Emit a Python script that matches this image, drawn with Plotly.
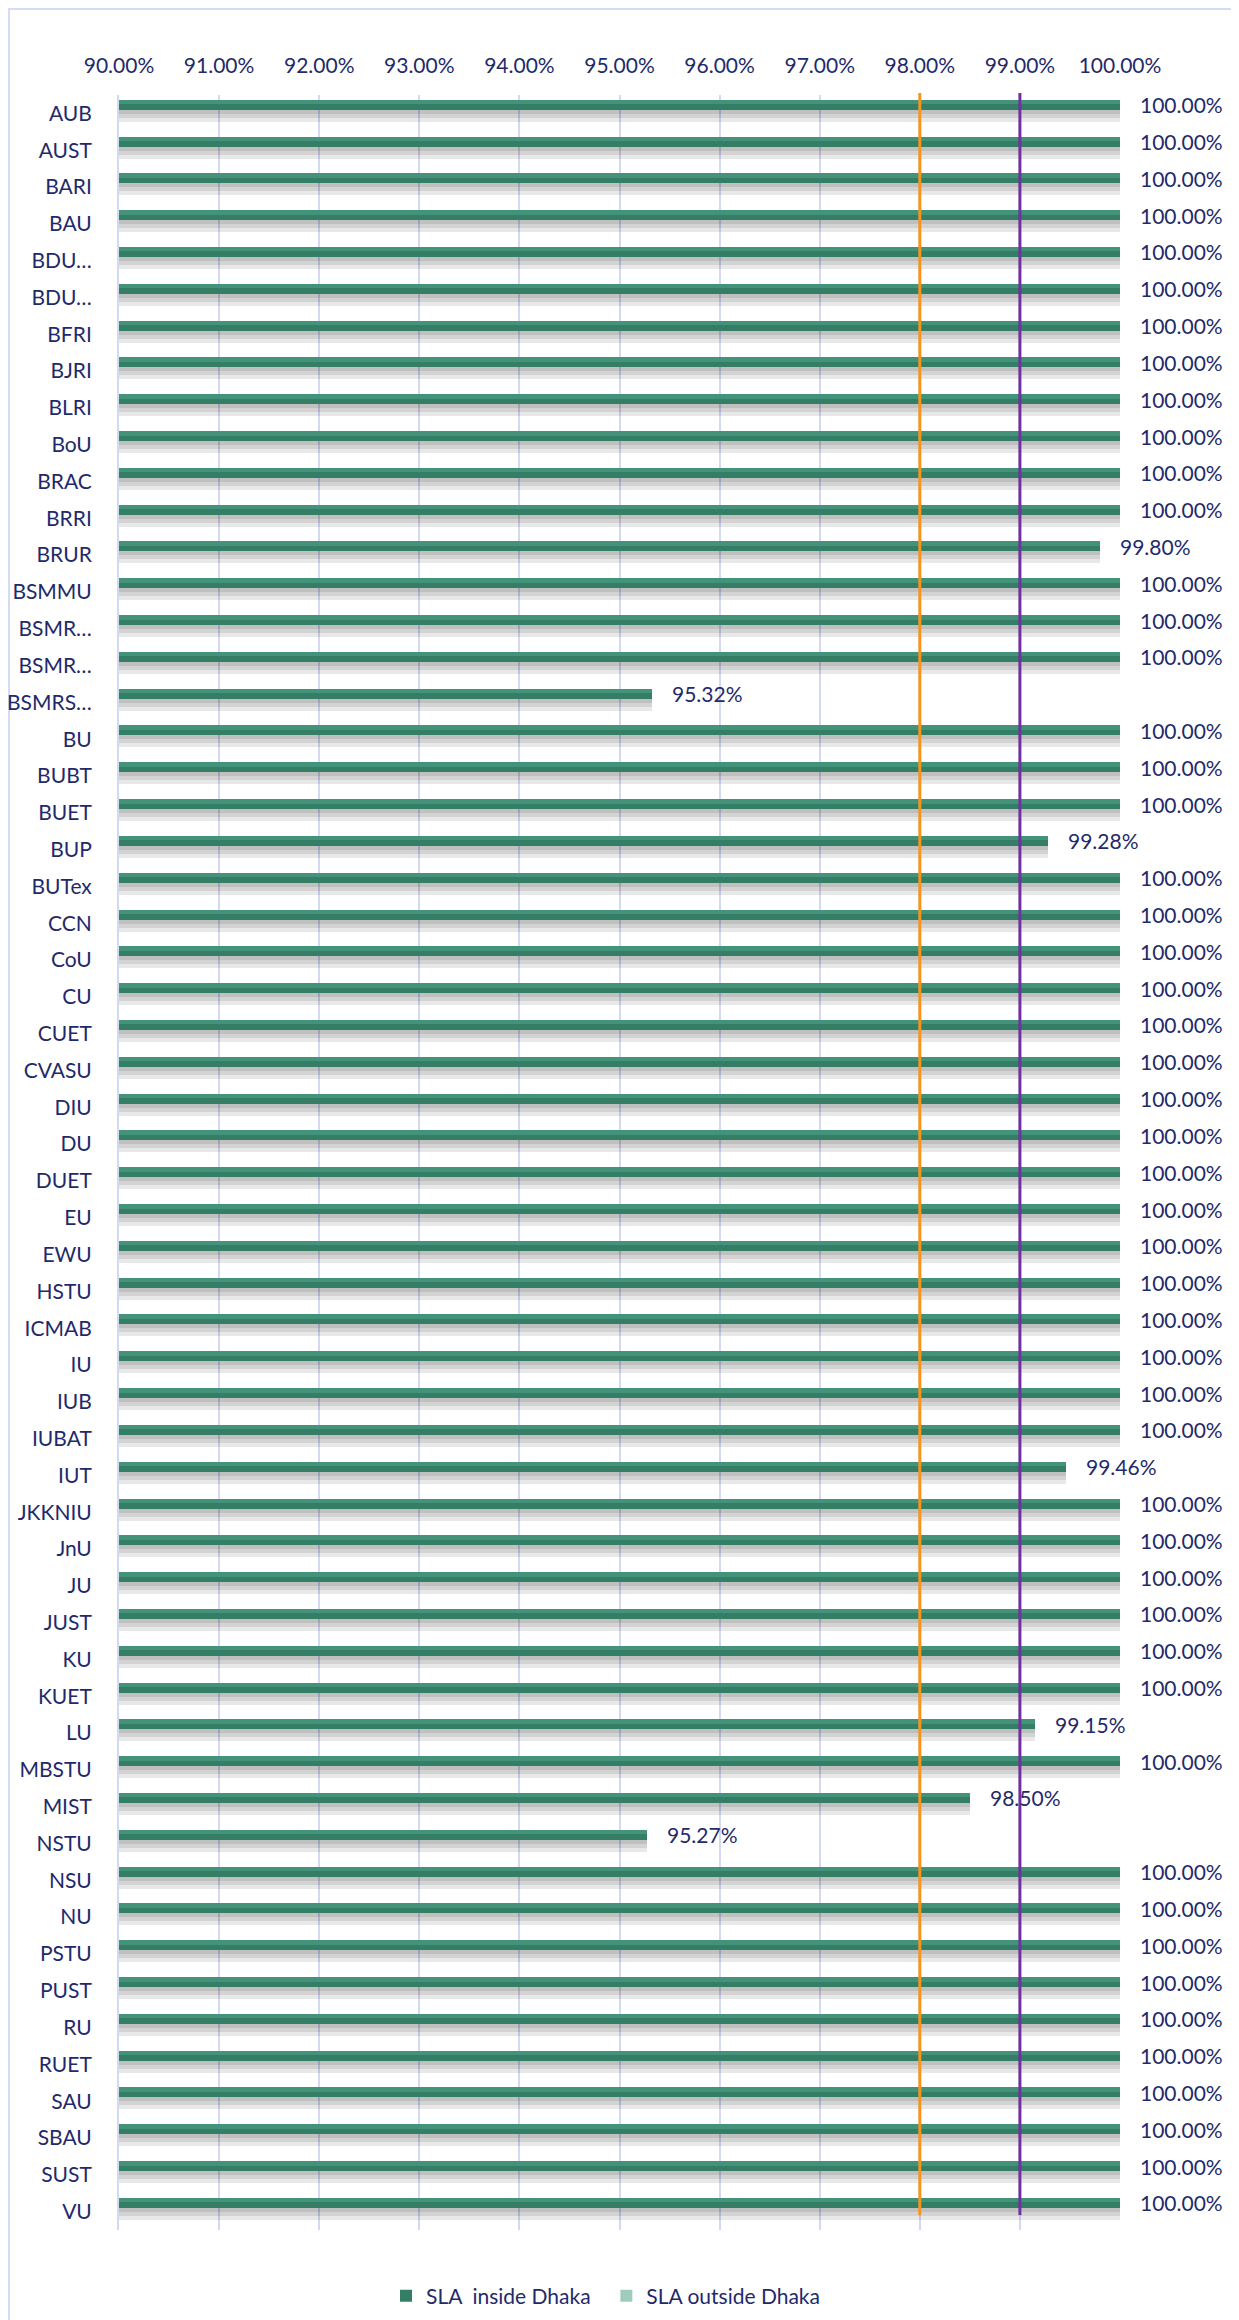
import plotly.graph_objects as go

# ---------------- data ----------------
categories = ["AUB", "AUST", "BARI", "BAU", "BDU…", "BDU…", "BFRI", "BJRI", "BLRI", "BoU",
              "BRAC", "BRRI", "BRUR", "BSMMU", "BSMR…", "BSMR…", "BSMRS…", "BU", "BUBT", "BUET",
              "BUP", "BUTex", "CCN", "CoU", "CU", "CUET", "CVASU", "DIU", "DU", "DUET",
              "EU", "EWU", "HSTU", "ICMAB", "IU", "IUB", "IUBAT", "IUT", "JKKNIU", "JnU",
              "JU", "JUST", "KU", "KUET", "LU", "MBSTU", "MIST", "NSTU", "NSU", "NU",
              "PSTU", "PUST", "RU", "RUET", "SAU", "SBAU", "SUST", "VU"]

sla_inside = [1.0, 1.0, 1.0, 1.0, 1.0, 1.0, 1.0, 1.0, 1.0, 1.0,
              1.0, 1.0, 0.998, 1.0, 1.0, 1.0, 0.9532, 1.0, 1.0, 1.0,
              0.9928, 1.0, 1.0, 1.0, 1.0, 1.0, 1.0, 1.0, 1.0, 1.0,
              1.0, 1.0, 1.0, 1.0, 1.0, 1.0, 1.0, 0.9946, 1.0, 1.0,
              1.0, 1.0, 1.0, 1.0, 0.9915, 1.0, 0.985, 0.9527, 1.0, 1.0,
              1.0, 1.0, 1.0, 1.0, 1.0, 1.0, 1.0, 1.0]

sla_outside = [None] * len(categories)

x_ticks = [0.90, 0.91, 0.92, 0.93, 0.94, 0.95, 0.96, 0.97, 0.98, 0.99, 1.00]
thresholds = [0.98, 0.99]
threshold_colors = ["#F7941D", "#7030A0"]

# ---------------- styling ----------------
FONT = "Lato"
NAVY = "#1F2A6B"
GRID = "#D3D8F3"
FS = 21

OFF = 8  # default body margin of the html page
W, H = 1239 - OFF, 2320 - OFF
ML, MT = 119 - OFF, 95 - OFF
MR, MB = 119, 90
plot_w = W - ML - MR
plot_h = H - MT - MB
n = len(categories)
slot_px = plot_h / n


def px2u(p):
    return p / slot_px


def page_y(py):
    """page pixel y -> paper y"""
    return (H - MB - (py - OFF)) / plot_h


def page_x(px):
    """page pixel x -> paper x"""
    return ((px - OFF) - ML) / plot_w


pos = list(range(n))

bar_top = px2u(-13.7)
bar_w = px2u(10)
bar_center = bar_top + bar_w / 2

fig = go.Figure()

# soft shadow under bars
for th in (12, 8, 4):
    fig.add_trace(go.Bar(
        y=pos, x=sla_inside, orientation="h", base=0,
        offset=bar_top + bar_w, width=px2u(th),
        marker=dict(color="rgba(0,0,0,0.09)", line=dict(width=0)),
        showlegend=False, hoverinfo="skip"))

# main bars
fig.add_trace(go.Bar(
    y=pos, x=sla_inside, orientation="h",
    offset=bar_top, width=bar_w,
    marker=dict(color="#357E66", line=dict(width=0)),
    name="SLA\u00a0 inside Dhaka\u00a0\u00a0", showlegend=True))
# lighter upper half (gradient effect)
fig.add_trace(go.Bar(
    y=pos, x=sla_inside, orientation="h",
    offset=bar_top, width=bar_w * 0.45,
    marker=dict(color="#43937A", line=dict(width=0)),
    showlegend=False, hoverinfo="skip"))

# empty second series (legend only)
fig.add_trace(go.Bar(
    y=pos, x=sla_outside, orientation="h",
    offset=bar_top, width=bar_w,
    marker=dict(color="#9FCDBC", line=dict(width=0)),
    name="SLA outside Dhaka", showlegend=True))

# value labels
for i, v in enumerate(sla_inside):
    fig.add_annotation(x=v, y=i + bar_center, xref="x", yref="y",
                       text=f"{v*100:.2f}%", showarrow=False,
                       xanchor="left", yanchor="middle", xshift=18,
                       font=dict(family=FONT, size=FS, color=NAVY))

# threshold lines
for t, c in zip(thresholds, threshold_colors):
    fig.add_shape(type="line", xref="x", yref="paper",
                  x0=t, x1=t, y0=page_y(2215), y1=page_y(93),
                  line=dict(color=c, width=3), layer="above")

# outer chart border
fig.add_shape(type="rect", xref="paper", yref="paper",
              x0=page_x(9), x1=page_x(1260),
              y0=page_y(2340), y1=page_y(9),
              line=dict(color="#D5DAF5", width=2), fillcolor="rgba(0,0,0,0)",
              layer="below")

fig.update_layout(
    width=W, height=H,
    margin=dict(l=ML, r=MR, t=MT, b=MB, autoexpand=False),
    paper_bgcolor="white", plot_bgcolor="white",
    barmode="overlay",
    bargap=0,
    font=dict(family=FONT, size=FS, color=NAVY),
    legend=dict(orientation="h", x=page_x(386), xanchor="left",
                y=page_y(2296), yanchor="middle",
                font=dict(family=FONT, size=FS, color=NAVY),
                itemwidth=30, traceorder="normal"),
    xaxis=dict(side="top", range=[0.9, 1.0], tickvals=x_ticks, tickformat=".2%",
               showgrid=True, gridcolor=GRID, gridwidth=2, zeroline=False,
               showline=False, ticks="", ticklabelstandoff=17, automargin=False,
               tickfont=dict(family=FONT, size=FS, color=NAVY)),
    yaxis=dict(range=[n - 0.5, -0.5], tickvals=pos, ticktext=categories,
               showgrid=False, zeroline=False, showline=True, linecolor=GRID,
               linewidth=2, ticks="", ticklabelstandoff=21, automargin=False,
               tickfont=dict(family=FONT, size=FS, color=NAVY)),
)

fig.write_html("out.html")
